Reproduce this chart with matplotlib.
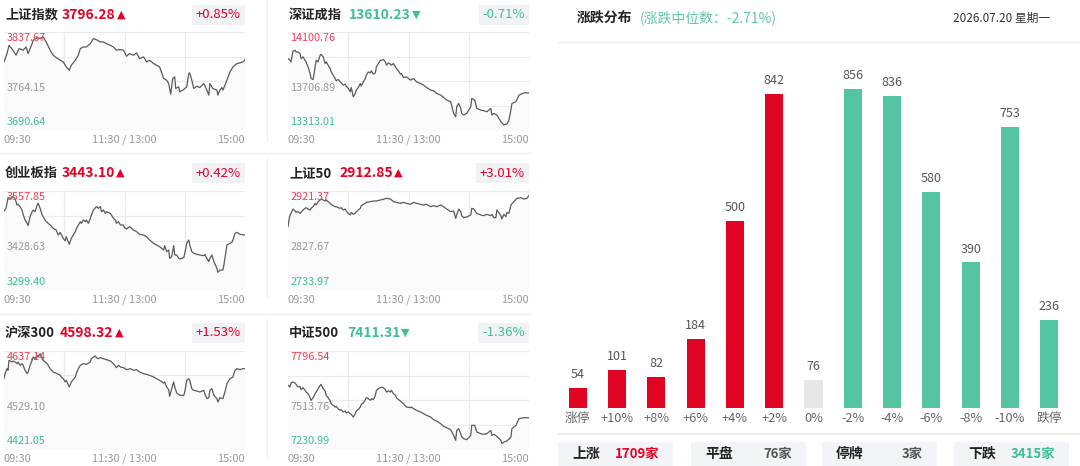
import matplotlib.pyplot as plt
from matplotlib.patches import Rectangle
from matplotlib.lines import Line2D

plt.rcParams['font.family'] = ['Noto Sans CJK SC', 'DejaVu Sans']

# ---------------- index snapshot data ----------------
index_names = ['上证指数', '深证成指', '创业板指', '上证50', '沪深300', '中证500']
index_last = [3796.28, 13610.23, 3443.10, 2912.85, 4598.32, 7411.31]
index_pct = [0.85, -0.71, 0.42, 3.01, 1.53, -1.36]
axis_high = [3837.67, 14100.76, 3557.85, 2921.37, 4637.14, 7796.54]
axis_mid = [3764.15, 13706.89, 3428.63, 2827.67, 4529.10, 7513.76]
axis_low = [3690.64, 13313.01, 3299.40, 2733.97, 4421.05, 7230.99]
time_labels = ['09:30', '11:30 / 13:00', '15:00']

# intraday traces, minutes since open (0..240)
sh_t = [0, 3, 5, 9, 12, 15, 19, 22, 24, 28, 29, 33, 36, 39, 42, 46, 49, 52, 56, 59,
        62, 65, 67, 71, 74, 76, 79, 82, 86, 89, 92, 96, 99, 102, 106, 109, 112, 116, 119, 122,
        125, 129, 132, 135, 139, 142, 145, 149, 152, 155, 159, 162, 164, 166, 168, 170, 171, 174, 175, 179,
        182, 184, 185, 187, 189, 192, 195, 199, 202, 204, 205, 208, 212, 213, 215, 217, 218, 222, 225, 228,
        232, 235, 238, 240]
sh_v = [3792.8, 3805.3, 3817.7, 3810.3, 3802.8, 3812.8, 3810.3, 3815.2, 3805.3, 3820.2,
        3825.2, 3829.2, 3827.7, 3830.2, 3822.7, 3810.3, 3802.8, 3799.3, 3795.3, 3792.8,
        3785.3, 3780.4, 3787.8, 3795.3, 3802.8, 3812.8, 3815.2, 3815.2, 3820.2, 3827.7,
        3826.2, 3822.7, 3822.7, 3820.2, 3817.7, 3815.2, 3810.3, 3811.3, 3810.3, 3801.3,
        3805.3, 3802.8, 3806.3, 3797.8, 3800.3, 3792.8, 3795.3, 3790.3, 3787.8, 3785.3,
        3767.9, 3765.4, 3760.4, 3744.5, 3767.9, 3770.4, 3752.9, 3755.4, 3748.0, 3751.5,
        3755.4, 3775.4, 3776.4, 3765.4, 3752.9, 3756.4, 3754.4, 3760.4, 3750.5, 3743.0,
        3760.4, 3752.9, 3750.5, 3743.0, 3750.5, 3754.4, 3750.5, 3765.4, 3777.9, 3785.3,
        3790.3, 3791.3, 3792.8, 3796.3]

sz_t = [0, 2, 3, 5, 7, 8, 10, 12, 13, 15, 17, 18, 20, 22, 23, 25, 27, 28, 30, 32,
        33, 35, 37, 38, 40, 42, 43, 45, 47, 48, 50, 52, 53, 55, 57, 58, 60, 62, 63, 65,
        67, 68, 70, 72, 73, 75, 77, 78, 80, 82, 83, 85, 87, 88, 90, 92, 93, 95, 97, 98,
        100, 102, 103, 105, 107, 108, 110, 112, 113, 115, 118, 122, 123, 125, 128, 132, 135, 138, 142, 145,
        148, 152, 155, 158, 162, 165, 167, 168, 170, 172, 173, 175, 178, 182, 183, 186, 188, 192, 195, 198,
        202, 203, 205, 208, 212, 215, 217, 218, 220, 222, 223, 227, 230, 235, 240]
sz_v = [13887.2, 13873.8, 13860.5, 13948.6, 13953.9, 13940.6, 13940.6, 13927.2, 13887.2, 13900.5,
        13873.8, 13860.5, 13820.4, 13767.0, 13727.0, 13719.0, 13820.4, 13873.8, 13860.5, 13913.9,
        13921.9, 13900.5, 13847.1, 13860.5, 13833.8, 13807.1, 13780.4, 13753.7, 13727.0, 13708.3,
        13719.0, 13700.3, 13692.3, 13673.6, 13681.6, 13665.6, 13646.9, 13620.2, 13654.9, 13580.1,
        13606.8, 13633.5, 13654.9, 13686.9, 13665.6, 13700.3, 13727.0, 13753.7, 13780.4, 13772.4,
        13788.4, 13761.7, 13772.4, 13820.4, 13847.1, 13873.8, 13873.8, 13879.2, 13860.5, 13833.8,
        13852.5, 13841.8, 13833.8, 13847.1, 13820.4, 13807.1, 13788.4, 13761.7, 13767.0, 13735.0,
        13740.3, 13713.6, 13719.0, 13727.0, 13700.3, 13686.9, 13673.6, 13654.9, 13633.5, 13628.2,
        13606.8, 13593.5, 13574.8, 13553.4, 13540.1, 13446.6, 13419.9, 13500.0, 13526.7, 13486.7,
        13446.6, 13433.3, 13446.6, 13500.0, 13566.8, 13553.4, 13486.7, 13473.3, 13468.0, 13460.0,
        13486.7, 13433.3, 13446.6, 13433.3, 13379.9, 13353.2, 13361.2, 13361.2, 13393.2, 13473.3,
        13526.7, 13540.1, 13593.5, 13612.2, 13610.2]

cyb_t = [0, 2, 4, 6, 9, 11, 13, 14, 16, 18, 19, 21, 23, 24, 26, 28, 29, 31, 33, 34,
         36, 38, 39, 42, 46, 49, 52, 54, 56, 59, 61, 62, 65, 67, 71, 72, 74, 76, 77, 79,
         81, 82, 84, 86, 87, 89, 92, 94, 96, 97, 99, 101, 102, 106, 109, 111, 112, 114, 116, 119,
         120, 122, 125, 129, 132, 135, 139, 142, 145, 149, 152, 155, 159, 160, 162, 164, 165, 167, 169, 170,
         172, 174, 175, 179, 180, 182, 184, 185, 187, 189, 192, 195, 199, 200, 202, 204, 205, 207, 209, 212,
         213, 215, 218, 219, 222, 225, 227, 228, 230, 232, 235, 240]
cyb_v = [3505.6, 3512.6, 3540.4, 3538.7, 3543.1, 3538.7, 3521.3, 3523.0, 3517.0, 3508.2,
         3496.9, 3482.1, 3473.4, 3467.4, 3490.9, 3503.9, 3508.2, 3503.9, 3521.3, 3525.6,
         3512.6, 3495.2, 3490.9, 3477.8, 3469.1, 3460.4, 3456.0, 3443.0, 3449.9, 3434.3,
         3427.3, 3438.6, 3418.6, 3434.3, 3451.7, 3458.6, 3469.1, 3477.8, 3473.4, 3482.1,
         3477.8, 3482.1, 3473.4, 3486.5, 3495.2, 3508.2, 3517.0, 3512.6, 3517.0, 3503.9,
         3508.2, 3499.5, 3503.9, 3499.5, 3486.5, 3482.1, 3473.4, 3477.8, 3469.1, 3469.1,
         3462.1, 3458.6, 3464.7, 3456.0, 3451.7, 3444.7, 3443.0, 3438.6, 3429.9, 3421.2,
         3416.9, 3412.5, 3403.8, 3415.1, 3399.5, 3403.8, 3382.1, 3386.4, 3415.1, 3390.8,
         3390.8, 3382.1, 3380.3, 3383.8, 3395.1, 3421.2, 3429.9, 3416.9, 3399.5, 3395.1,
         3392.5, 3390.8, 3389.0, 3392.5, 3382.1, 3373.4, 3382.1, 3390.8, 3373.4, 3356.0,
         3345.5, 3351.6, 3351.6, 3364.7, 3416.9, 3421.2, 3423.8, 3429.9, 3447.3, 3449.9,
         3444.7, 3443.1]

sz50_t = [0, 1, 2, 3, 5, 7, 8, 10, 12, 13, 15, 17, 18, 20, 22, 23, 25, 27, 28, 30,
          32, 33, 35, 37, 38, 40, 42, 43, 45, 47, 48, 50, 52, 53, 55, 57, 58, 60, 62, 63,
          65, 67, 68, 70, 72, 73, 75, 77, 78, 82, 85, 88, 92, 95, 98, 102, 105, 108, 112, 115,
          118, 122, 125, 128, 132, 135, 138, 142, 145, 148, 152, 155, 158, 162, 165, 167, 168, 170, 172, 173,
          175, 178, 182, 183, 185, 188, 192, 195, 198, 202, 203, 205, 207, 208, 212, 213, 215, 217, 218, 220,
          222, 225, 228, 232, 235, 238, 240]
sz50_v = [2853.9, 2866.5, 2876.0, 2879.1, 2887.3, 2883.5, 2881.0, 2882.3, 2879.1, 2881.0,
          2885.4, 2888.6, 2889.8, 2887.3, 2885.4, 2888.6, 2891.7, 2898.0, 2894.9, 2901.2,
          2904.4, 2906.2, 2904.4, 2902.4, 2904.4, 2901.2, 2898.0, 2896.1, 2893.6, 2891.7,
          2891.7, 2889.8, 2888.6, 2889.8, 2885.4, 2887.3, 2883.5, 2879.1, 2876.0, 2881.0,
          2877.2, 2879.1, 2882.3, 2885.4, 2888.6, 2893.6, 2896.1, 2898.0, 2899.9, 2901.2,
          2902.4, 2902.4, 2904.4, 2905.6, 2907.5, 2906.2, 2901.2, 2899.9, 2898.0, 2899.9,
          2898.0, 2896.1, 2899.9, 2898.0, 2896.1, 2894.9, 2896.1, 2891.7, 2893.6, 2891.7,
          2894.9, 2891.7, 2887.3, 2882.3, 2883.5, 2869.6, 2876.0, 2887.3, 2882.3, 2874.7,
          2870.9, 2872.2, 2876.0, 2888.6, 2887.3, 2879.1, 2876.0, 2874.7, 2877.2, 2874.7,
          2877.2, 2870.9, 2870.9, 2885.4, 2874.7, 2868.4, 2877.2, 2872.8, 2881.0, 2879.1,
          2894.9, 2901.2, 2907.5, 2908.7, 2906.2, 2907.5, 2912.85]

hs300_t = [0, 1, 3, 4, 5, 8, 9, 11, 13, 14, 16, 18, 19, 21, 23, 24, 26, 28, 29, 31,
           33, 34, 36, 38, 39, 43, 46, 48, 49, 53, 56, 57, 59, 61, 62, 65, 67, 71, 72, 74,
           76, 79, 82, 86, 87, 89, 91, 92, 94, 96, 99, 102, 106, 109, 112, 114, 116, 119, 122, 126,
           129, 132, 135, 139, 142, 145, 149, 152, 155, 159, 160, 162, 164, 165, 167, 169, 170, 172, 174, 175,
           179, 180, 182, 184, 185, 187, 189, 192, 195, 199, 200, 202, 204, 205, 207, 209, 212, 213, 215, 218,
           220, 222, 225, 228, 230, 232, 235, 238, 240]
hs300_v = [4576.1, 4587.1, 4598.2, 4594.5, 4616.6, 4612.9, 4615.1, 4612.9, 4609.2, 4612.9,
           4605.5, 4609.2, 4605.5, 4594.5, 4587.1, 4590.8, 4605.5, 4616.6, 4623.9, 4620.2,
           4627.6, 4623.9, 4631.3, 4620.2, 4616.6, 4609.2, 4598.2, 4593.0, 4590.8, 4587.1,
           4583.5, 4579.8, 4576.1, 4568.8, 4572.5, 4557.7, 4568.8, 4579.8, 4587.1, 4598.2,
           4605.5, 4609.2, 4607.7, 4612.9, 4620.2, 4623.9, 4626.1, 4622.4, 4620.2, 4622.4,
           4620.2, 4618.0, 4615.1, 4609.2, 4600.4, 4605.5, 4601.8, 4600.4, 4596.0, 4598.2,
           4594.5, 4596.0, 4590.8, 4587.1, 4585.7, 4583.5, 4579.8, 4576.1, 4572.5, 4566.5,
           4568.8, 4557.7, 4551.8, 4537.1, 4554.1, 4568.8, 4557.7, 4544.5, 4541.6, 4539.4,
           4539.4, 4546.7, 4572.5, 4576.1, 4572.5, 4554.1, 4550.4, 4549.0, 4546.7, 4550.4,
           4543.0, 4532.0, 4534.2, 4550.4, 4554.1, 4539.4, 4532.0, 4524.7, 4534.2, 4532.0,
           4546.7, 4565.1, 4576.1, 4579.8, 4594.5, 4598.2, 4596.0, 4598.2, 4598.3]

zz500_t = [0, 2, 3, 5, 7, 8, 10, 12, 13, 15, 17, 18, 20, 22, 23, 25, 27, 28, 30, 32,
           33, 35, 37, 38, 40, 42, 43, 45, 47, 48, 50, 52, 53, 55, 57, 58, 60, 62, 63, 65,
           67, 68, 70, 72, 73, 75, 77, 78, 80, 82, 83, 85, 87, 88, 90, 92, 93, 95, 97, 98,
           100, 102, 103, 105, 107, 108, 110, 112, 113, 115, 118, 122, 123, 125, 128, 132, 135, 138, 142, 145,
           148, 152, 155, 158, 162, 165, 167, 168, 170, 172, 173, 175, 178, 182, 183, 186, 188, 192, 195, 198,
           200, 202, 203, 205, 208, 212, 213, 215, 218, 222, 223, 227, 230, 235, 240]
zz500_v = [7598.4, 7588.8, 7611.9, 7617.6, 7611.9, 7604.2, 7588.8, 7592.6, 7573.4, 7584.9,
           7569.5, 7559.9, 7550.3, 7527.2, 7511.8, 7527.2, 7550.3, 7559.9, 7579.2, 7598.4,
           7604.2, 7579.2, 7565.7, 7540.7, 7527.2, 7508.0, 7492.6, 7483.0, 7473.3, 7477.2,
           7463.7, 7454.1, 7458.0, 7444.5, 7450.3, 7438.7, 7444.5, 7434.9, 7431.0, 7415.6,
           7434.9, 7450.3, 7458.0, 7473.3, 7488.7, 7496.4, 7515.7, 7527.2, 7521.4, 7511.8,
           7521.4, 7515.7, 7540.7, 7569.5, 7579.2, 7584.9, 7588.8, 7584.9, 7573.4, 7559.9,
           7565.7, 7559.9, 7569.5, 7550.3, 7540.7, 7527.2, 7515.7, 7508.0, 7502.2, 7492.6,
           7473.3, 7469.5, 7473.3, 7463.7, 7454.1, 7444.5, 7434.9, 7425.2, 7415.6, 7400.3,
           7392.5, 7377.2, 7361.8, 7354.1, 7342.5, 7309.8, 7281.0, 7338.7, 7348.3, 7319.4,
           7300.2, 7290.6, 7284.8, 7309.8, 7367.5, 7367.5, 7329.1, 7319.4, 7315.6, 7319.4,
           7329.1, 7338.7, 7309.8, 7315.6, 7304.1, 7281.0, 7261.7, 7271.4, 7277.1, 7300.2,
           7348.3, 7367.5, 7406.0, 7411.8, 7411.3]

series_t = [sh_t, sz_t, cyb_t, sz50_t, hs300_t, zz500_t]
series_v = [sh_v, sz_v, cyb_v, sz50_v, hs300_v, zz500_v]

# ---------------- rise/fall distribution ----------------
dist_labels = ['涨停', '+10%', '+8%', '+6%', '+4%', '+2%', '0%',
               '-2%', '-4%', '-6%', '-8%', '-10%', '跌停']
dist_counts = [54, 101, 82, 184, 500, 842, 76, 856, 836, 580, 390, 753, 236]
median_pct = -2.71
date_text = '2026.07.20 星期一'
summary_names = ['上涨', '平盘', '停牌', '下跌']
summary_counts = [1709, 76, 3, 3415]

# colours
RED = '#e00322'
GREEN = '#54c4a2'
RED_TXT = '#e60026'
GREEN_TXT = '#3fbf93'
GRID = '#ebebeb'

W, H = 1080, 466
fig = plt.figure(figsize=(W / 100, H / 100), dpi=100)
renderer = fig.canvas.get_renderer()


def add_ax(l, t, r, b):
    return fig.add_axes([l / W, 1 - b / H, (r - l) / W, (b - t) / H])


def ftext(x, y, s, **kw):
    return fig.text(x / W, 1 - y / H, s, **kw)


def hline(x0, x1, y, color='#efefef', lw=1.0):
    fig.add_artist(Line2D([x0 / W, x1 / W], [1 - y / H, 1 - y / H], color=color, lw=lw))


def vline(x, y0, y1, color='#efefef', lw=1.0):
    fig.add_artist(Line2D([x / W, x / W], [1 - y0 / H, 1 - y1 / H], color=color, lw=lw))


# panel layout (pixels)
col_x = [(4, 245), (288, 529)]
row_y = [(32, 130), (191, 290), (351, 449)]
head_y = [15, 173, 333]
value_x = [62, 349, 62, 339, 60, 347]

# dividers
hline(0, 530, 153)
hline(0, 530, 314)
for y0, y1 in [(0, 140), (158, 297), (320, 458)]:
    vline(267, y0, y1)

for i in range(6):
    row, col = i // 2, i % 2
    l, r = col_x[col]
    t, b = row_y[row]
    lo, hi = axis_low[i], axis_high[i]
    up = index_pct[i] >= 0
    c = RED_TXT if up else GREEN_TXT

    ax = add_ax(l, t, r, b)
    ax.set_xlim(0, 240)
    ax.set_ylim(lo, hi)
    for k in range(5):
        ax.axhline(lo + (hi - lo) * k / 4, color=GRID, lw=0.9, zorder=0)
    for m in (60, 120, 180):
        ax.axvline(m, color=GRID, lw=0.9, zorder=0)
    ax.fill_between(series_t[i], series_v[i], lo, color='#fafafa', lw=0, zorder=1)
    ax.plot(series_t[i], series_v[i], color='#5a5a5a', lw=0.9, zorder=3)
    ax.axis('off')

    ax.text(0.01, 0.99, f'{hi:.2f}', transform=ax.transAxes, ha='left', va='top',
            fontsize=7.8, color='#ef3b55', zorder=4)
    ax.text(0.01, 0.48, f'{axis_mid[i]:.2f}', transform=ax.transAxes, ha='left', va='top',
            fontsize=7.8, color='#9a9a9a', zorder=4)
    ax.text(0.01, 0.03, f'{lo:.2f}', transform=ax.transAxes, ha='left', va='bottom',
            fontsize=7.8, color='#3dbf92', zorder=4)

    ftext(l, b + 10, time_labels[0], ha='left', va='center', fontsize=8, color='#999999')
    ftext((l + r) / 2, b + 10, time_labels[1], ha='center', va='center', fontsize=8, color='#999999')
    ftext(r, b + 10, time_labels[2], ha='right', va='center', fontsize=8, color='#999999')

    hy = head_y[row]
    ftext(l + 1, hy, index_names[i], ha='left', va='center', fontsize=9.5,
          fontweight='bold', color='#222222')
    val = ftext(value_x[i], hy, f'{index_last[i]:.2f}', ha='left', va='center',
                fontsize=10, fontweight='bold', color=c)
    x_end = val.get_window_extent(renderer).x1
    arrow = '▲' if up else '▼'
    fig.text(x_end / W + 1 / W, 1 - hy / H, arrow, ha='left', va='center',
             fontsize=8, color=c, family='DejaVu Sans')
    ftext(r - 4, hy, f'{index_pct[i]:+.2f}%', ha='right', va='center', fontsize=9.5, color=c,
          bbox=dict(boxstyle='square,pad=0.3', fc='#f0f2f5', ec='none'))

# ---------------- distribution bar chart ----------------
ftext(577, 18, '涨跌分布', ha='left', va='center', fontsize=10, fontweight='bold', color='#222222')
ftext(640, 18, f'(涨跌中位数：{median_pct:.2f}%)', ha='left', va='center', fontsize=10, color='#62c9a8')
ftext(1050, 18, date_text, ha='right', va='center', fontsize=8.5, color='#333333')
hline(558, 1080, 42, color='#eeeeee')

bar_colors = [RED] * 6 + ['#e6e6e6'] + [GREEN] * 6
bx = add_ax(558, 58, 1069, 408)
pos = list(range(len(dist_counts)))
bx.bar(pos, dist_counts, width=0.46, color=bar_colors)
bx.set_xlim(-0.5, len(dist_counts) - 0.5)
bx.set_ylim(0, 938)
bx.axis('off')
for p, cnt, lab in zip(pos, dist_counts, dist_labels):
    bx.annotate(str(cnt), (p, cnt), xytext=(0, 5), textcoords='offset points',
                ha='center', va='bottom', fontsize=9, color='#555555')
    bx.annotate(lab, (p, 0), xytext=(0, -3), textcoords='offset points',
                ha='center', va='top', fontsize=9.2, color='#666666', annotation_clip=False)
hline(558, 1080, 434, color='#eeeeee', lw=1.5)

box_left = [558, 691, 822, 954]
count_colors = [RED_TXT, '#555555', '#555555', GREEN_TXT]
for bl, name, cnt, cc in zip(box_left, summary_names, summary_counts, count_colors):
    fig.add_artist(Rectangle((bl / W, 0), 115 / W, 24 / H, transform=fig.transFigure,
                             fc='#f2f4f8', ec='none'))
    ftext(bl + 14, 454, name, ha='left', va='center', fontsize=10, fontweight='bold', color='#222222')
    ftext(bl + 101, 454, f'{cnt}家', ha='right', va='center', fontsize=9.5,
          fontweight='bold', color=cc)

fig.savefig('out.png', dpi=100)
